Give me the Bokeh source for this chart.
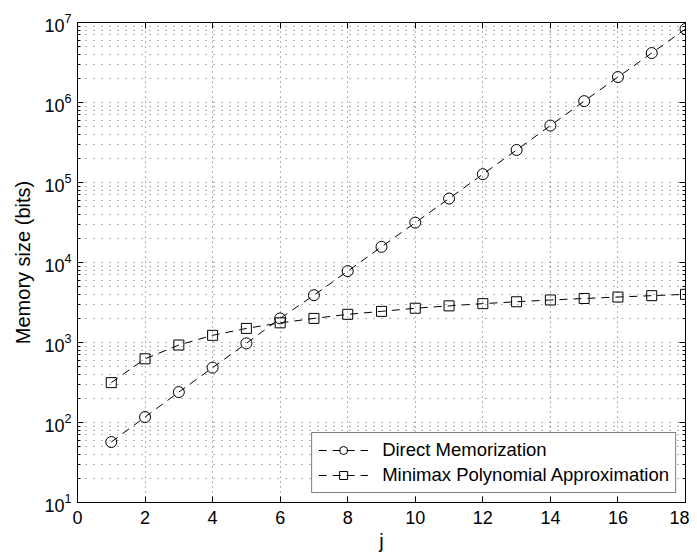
from bokeh.plotting import figure
from bokeh.models import (LinearAxis, LogAxis, FixedTicker, Legend, LegendItem, Range1d)
from bokeh.embed import file_html
from bokeh.resources import INLINE

j = list(range(1, 19))
direct = [57, 117, 240, 485, 975, 2000, 3900, 7800, 15700, 31500, 63000, 127000,
          255000, 515000, 1040000, 2080000, 4150000, 8300000]
minimax = [315, 625, 930, 1230, 1500, 1760, 2000, 2250, 2450, 2680, 2870, 3060,
           3230, 3400, 3550, 3700, 3850, 4000]

x_ticks = [0, 2, 4, 6, 8, 10, 12, 14, 16, 18]
y_exps = [1, 2, 3, 4, 5, 6, 7]

FONT = "Liberation Sans"

y_major = [10.0 ** e for e in y_exps]
y_minor = [m * 10.0 ** e for e in y_exps[:-1] for m in range(2, 10)]

p = figure(frame_width=608, frame_height=480, y_axis_type="log",
           x_range=Range1d(0, 18), y_range=Range1d(10, 1e7),
           output_backend="svg", toolbar_location=None,
           min_border_left=77, min_border_right=4, min_border_top=22, min_border_bottom=47,
           background_fill_color="white", border_fill_color="white")
p.outline_line_color = "black"
p.outline_line_width = 1

xt = FixedTicker(ticks=x_ticks, minor_ticks=[])
yt = FixedTicker(ticks=y_major, minor_ticks=y_minor)

p.xaxis.ticker = xt
p.yaxis.ticker = yt

for ax in (p.xaxis[0], p.yaxis[0]):
    ax.axis_line_color = "black"
    ax.major_tick_in = 6
    ax.major_tick_out = 0
    ax.minor_tick_in = 3
    ax.minor_tick_out = 0
    ax.major_tick_line_color = "black"
    ax.minor_tick_line_color = "black"
    ax.major_label_text_font = FONT
    ax.major_label_text_font_size = "18px"
    ax.major_label_text_color = "black"
    ax.axis_label_text_font = FONT
    ax.axis_label_text_font_size = "20px"
    ax.axis_label_text_font_style = "normal"
    ax.axis_label_text_color = "black"

p.xaxis.axis_label = "j"
p.yaxis.axis_label = "Memory size (bits)"
p.xaxis.major_label_standoff = 8
p.yaxis.major_label_standoff = 6
p.xaxis.axis_label_standoff = 3
p.yaxis.axis_label_standoff = 7

# top and right axes (ticks only)
top = LinearAxis(ticker=xt, major_label_text_font_size="1px", major_label_text_alpha=0,
                 major_tick_in=6, major_tick_out=0,
                 axis_line_color="black", major_label_standoff=0)
right = LogAxis(ticker=yt, major_label_text_font_size="1px", major_label_text_alpha=0,
                major_tick_in=6, major_tick_out=0,
                minor_tick_in=3, minor_tick_out=0, axis_line_color="black", major_label_standoff=0)
p.add_layout(top, "above")
p.add_layout(right, "right")

# grids
p.xgrid.ticker = xt
p.ygrid.ticker = yt
p.xgrid.grid_line_color = "black"
p.xgrid.grid_line_dash = "1 4"
p.xgrid.grid_line_alpha = 0.6
p.ygrid.grid_line_color = "black"
p.ygrid.grid_line_dash = "1 7"
p.ygrid.grid_line_alpha = 0.6
p.ygrid.minor_grid_line_color = "black"
p.ygrid.minor_grid_line_dash = "1 7"
p.ygrid.minor_grid_line_alpha = 0.6

l1 = p.line(j, direct, line_color="black", line_width=1, line_dash="8 6")
m1 = p.scatter(j, direct, marker="circle", size=11, line_color="black", fill_color=None, line_width=1)
l2 = p.line(j, minimax, line_color="black", line_width=1, line_dash="8 6")
m2 = p.scatter(j, minimax, marker="square", size=10, line_color="black", fill_color=None, line_width=1)

legend = Legend(items=[LegendItem(label="Direct Memorization", renderers=[l1, m1]),
                       LegendItem(label="Minimax Polynomial Approximation", renderers=[l2, m2])],
                location="bottom_right")
legend.label_text_font = FONT
legend.label_text_font_size = "18.5px"
legend.label_text_color = "black"
legend.border_line_color = "black"
legend.border_line_width = 1
legend.background_fill_color = "white"
legend.background_fill_alpha = 1
legend.glyph_width = 50
legend.glyph_height = 20
legend.label_height = 20
legend.spacing = 3
legend.padding = 6
legend.margin = 9
legend.label_standoff = 14
p.add_layout(legend, "center")

open("out.html", "w").write(file_html(p, INLINE))
